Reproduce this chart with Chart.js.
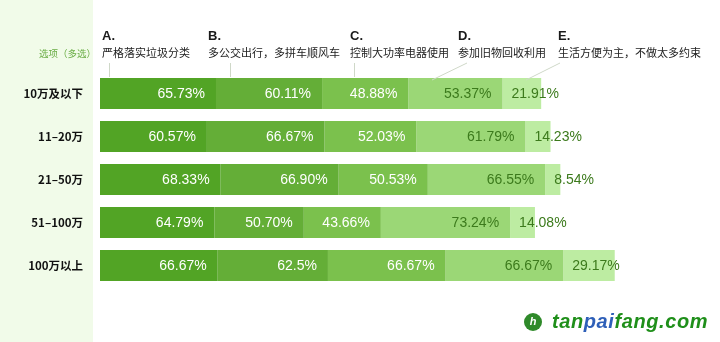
<!DOCTYPE html>
<html><head><meta charset="utf-8">
<script src="https://cdn.jsdelivr.net/npm/chart.js@4/dist/chart.umd.min.js"></script>
<style>
html,body{margin:0;padding:0;background:#fff;}
#wrap{position:relative;width:720px;height:342px;}
#side{position:absolute;left:0;top:0;width:93px;height:342px;background:#f1fbe9;}
canvas{position:absolute;left:0;top:0;}
</style></head><body>
<div id="wrap"><div id="side"></div><canvas id="c" width="720" height="342"></canvas></div>
<script>
const categories = ['10万及以下','11–20万','21–50万','51–100万','100万以上'];
const optionLetters = ['A.','B.','C.','D.','E.'];
const optionTexts = ['严格落实垃圾分类','多公交出行，多拼车顺风车','控制大功率电器使用','参加旧物回收利用','生活方便为主，不做太多约束'];
const seriesA = [65.73, 60.57, 68.33, 64.79, 66.67];
const seriesB = [60.11, 66.67, 66.90, 50.70, 62.5];
const seriesC = [48.88, 52.03, 50.53, 43.66, 66.67];
const seriesD = [53.37, 61.79, 66.55, 73.24, 66.67];
const seriesE = [21.91, 14.23, 8.54, 14.08, 29.17];
const valueLabels = [
  ['65.73%','60.57%','68.33%','64.79%','66.67%'],
  ['60.11%','66.67%','66.90%','50.70%','62.5%'],
  ['48.88%','52.03%','50.53%','43.66%','66.67%'],
  ['53.37%','61.79%','66.55%','73.24%','66.67%'],
  ['21.91%','14.23%','8.54%','14.08%','29.17%']
];
const sideLabel = '选项（多选）';

const colors = ['#52a425','#64ae37','#7bc14d','#9bd776','#bdeca2'];
const allSeries = [seriesA, seriesB, seriesC, seriesD, seriesE];

const overlay = {
  id:'overlay',
  afterDatasetsDraw(chart){
    const ctx = chart.ctx;
    const font = '"Liberation Sans", Arial, sans-serif';
    chart.data.datasets.forEach((ds, di) => {
      const meta = chart.getDatasetMeta(di);
      meta.data.forEach((bar, i) => {
        const props = bar.getProps(['x','y','base'], true);
        ctx.save();
        ctx.font = '14px ' + font;
        ctx.textBaseline = 'middle';
        const t = valueLabels[di][i];
        ctx.fillStyle = di < 3 ? '#ffffff' : '#3c7a1c';
        if (di < 4) {
          ctx.textAlign = 'right';
          ctx.fillText(t, props.x - 11, props.y + 1);
        } else {
          ctx.textAlign = 'left';
          ctx.fillText(t, props.base + 9, props.y + 1);
        }
        ctx.restore();
      });
    });
    const hx = [102, 208, 350, 458, 558];
    ctx.save();
    ctx.textBaseline = 'alphabetic';
    ctx.textAlign = 'left';
    optionLetters.forEach((l, i) => {
      ctx.fillStyle = '#1a1a1a';
      ctx.font = 'bold 13px ' + font;
      ctx.fillText(l, hx[i], 40);
      ctx.font = '11px "Noto Sans CJK SC", sans-serif';
      ctx.fillStyle = '#222';
      ctx.fillText(optionTexts[i], hx[i], 57);
    });
    ctx.fillStyle = '#6aad45';
    ctx.font = '9.5px "Noto Sans CJK SC", sans-serif';
    ctx.textAlign = 'right';
    ctx.fillText(sideLabel, 96, 57);
    ctx.strokeStyle = '#cfd8c8';
    ctx.lineWidth = 1;
    const lines = [[109.5,63,109.5,77],[230.5,63,230.5,77],[354.5,63,354.5,77],[467,63,432,80],[560,63,526,80]];
    lines.forEach(l => { ctx.beginPath(); ctx.moveTo(l[0],l[1]); ctx.lineTo(l[2],l[3]); ctx.stroke(); });
    // logo
    ctx.beginPath();
    ctx.fillStyle = '#2f8a2a';
    ctx.arc(533, 322, 9, 0, Math.PI*2);
    ctx.fill();
    ctx.fillStyle = '#fff';
    ctx.font = 'bold italic 11px ' + font;
    ctx.textAlign = 'center';
    ctx.textBaseline = 'middle';
    ctx.fillText('h', 533, 322);
    ctx.textAlign = 'left';
    ctx.font = 'bold italic 20px ' + font;
    let x = 552;
    [['tan','#1f8f1a'],['pai','#2e5fb8'],['fang.com','#1f8f1a']].forEach(p => {
      ctx.fillStyle = p[1];
      for (const ch of p[0]) {
        ctx.fillText(ch, x, 322);
        x += ctx.measureText(ch).width + 0.6;
      }
    });
    ctx.restore();
  }
};

new Chart(document.getElementById('c'), {
  type:'bar',
  data:{
    labels: categories,
    datasets: allSeries.map((s, i) => ({
      label: optionLetters[i],
      data: s,
      backgroundColor: colors[i],
      borderWidth: 0,
      barPercentage: 0.72,
      categoryPercentage: 1.0
    }))
  },
  options:{
    indexAxis:'y',
    responsive:false,
    animation:false,
    layout:{padding:{left:0,right:20,top:72,bottom:55}},
    plugins:{legend:{display:false},tooltip:{enabled:false}},
    scales:{
      x:{stacked:true,min:0,max:340,display:false},
      y:{stacked:true,
         grid:{display:false},border:{display:false},
         afterFit(scale){ scale.width = 100; },
         ticks:{color:'#111',padding:9,font:{family:'"Noto Sans CJK SC", sans-serif',size:11.5,weight:'bold'}}}
    }
  },
  plugins:[overlay]
});
</script>
</body></html>
